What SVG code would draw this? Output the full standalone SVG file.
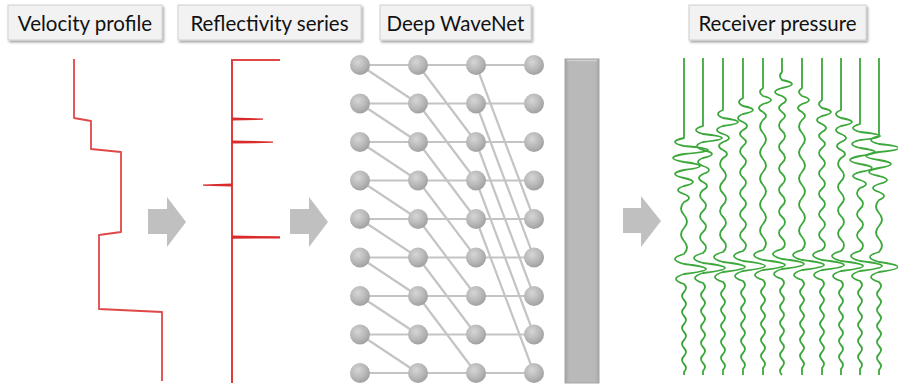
<svg xmlns="http://www.w3.org/2000/svg" width="898" height="385" viewBox="0 0 898 385">
<defs>
<radialGradient id="ball" cx="0.4" cy="0.35" r="0.7">
<stop offset="0" stop-color="#d6d6d6"/>
<stop offset="0.6" stop-color="#b6b6b6"/>
<stop offset="1" stop-color="#9c9c9c"/>
</radialGradient>
<linearGradient id="bar" x1="0" y1="0" x2="1" y2="0">
<stop offset="0" stop-color="#a2a2a2"/>
<stop offset="0.12" stop-color="#b9b9b9"/>
<stop offset="0.88" stop-color="#b9b9b9"/>
<stop offset="1" stop-color="#a8a8a8"/>
</linearGradient>
<filter id="sh" x="-10%" y="-10%" width="130%" height="140%">
<feDropShadow dx="1.5" dy="2" stdDeviation="1" flood-color="#000" flood-opacity="0.35"/>
</filter>
</defs>
<style>
.box{fill:#f2f2f2;stroke:#d0d0d0;stroke-width:1;filter:url(#sh)}
.lbl{font-family:Lato,"Open Sans","Liberation Sans",sans-serif;font-size:20.5px;fill:#111;text-anchor:middle}
.red{fill:none;stroke:#e04848;stroke-width:1.8;stroke-linejoin:round}
.spk{fill:#d92b2b}
.link{stroke:#c4c4c4;stroke-width:2.2;fill:none}
.node{fill:url(#ball)}
.arrow{fill:#c0c0c0}
.tr{fill:none;stroke:#3ca83c;stroke-width:1.8;stroke-linejoin:round}
</style>

<g id="label-velocity"><rect class="box" x="8" y="5" width="154" height="35"/><text class="lbl" x="85" y="30.5">Velocity profile</text></g>
<g id="label-reflectivity"><rect class="box" x="178" y="5" width="183" height="35"/><text class="lbl" x="269.5" y="30.5">Reflectivity series</text></g>
<g id="label-wavenet"><rect class="box" x="380" y="5" width="151" height="35"/><text class="lbl" x="455.5" y="30.5">Deep WaveNet</text></g>
<g id="label-receiver"><rect class="box" x="689" y="5" width="177" height="35"/><text class="lbl" x="777.5" y="30.5">Receiver pressure</text></g>

<g id="velocity-profile">
<polyline class="red" points="74,59 74,118 91,121 91,149 121,152 121,232 99,235 99,309 162,312 162,381"/>
</g>

<g id="reflectivity-series">
<line x1="232" y1="59" x2="232" y2="383" stroke="#e03a3a" stroke-width="2"/>
<line x1="232" y1="60" x2="280" y2="60" stroke="#e04848" stroke-width="1.8"/>
<polygon class="spk" points="232,117.6 263,118.4 263,119.8 232,120.6"/>
<polygon class="spk" points="232,140.6 273,141.4 273,142.8 232,143.6"/>
<polygon class="spk" points="232,183.6 203,184.4 203,185.8 232,186.6"/>
<polygon class="spk" points="232,235.6 280,236.2 280,238.4 232,238.8"/>
</g>

<g id="connectors">
<polygon class="arrow" points="148,209 167,209 167,197 186,222 167,247 167,234 148,234"/>
<polygon class="arrow" points="290,209 309,209 309,197 328,222 309,247 309,234 290,234"/>
<polygon class="arrow" points="623,208 641,208 641,196 661,221 641,247 641,233 623,233"/>
</g>

<g id="deep-wavenet">
<g id="wavenet-links">
<path class="link" d="M360,65H534M360,103.5H534M360,142H534M360,180.5H534M360,219H534M360,257.5H534M360,296H534M360,334.5H534M360,373H534"/>
<path class="link" d="M360,65L418,103.5M360,103.5L418,142M360,142L418,180.5M360,180.5L418,219M360,219L418,257.5M360,257.5L418,296M360,296L418,334.5M360,334.5L418,373"/>
<path class="link" d="M418,65L476,142M418,103.5L476,180.5M418,142L476,219M418,180.5L476,257.5M418,219L476,296M418,257.5L476,334.5M418,296L476,373"/>
<path class="link" d="M476,65L534,219M476,103.5L534,257.5M476,142L534,296M476,180.5L534,334.5M476,219L534,373"/>
</g>
<g id="wavenet-nodes">
<g id="col0"><circle class="node" cx="360" cy="65" r="10"/><circle class="node" cx="360" cy="103.5" r="10"/><circle class="node" cx="360" cy="142" r="10"/><circle class="node" cx="360" cy="180.5" r="10"/><circle class="node" cx="360" cy="219" r="10"/><circle class="node" cx="360" cy="257.5" r="10"/><circle class="node" cx="360" cy="296" r="10"/><circle class="node" cx="360" cy="334.5" r="10"/><circle class="node" cx="360" cy="373" r="10"/></g>
<g id="col1"><circle class="node" cx="418" cy="65" r="10"/><circle class="node" cx="418" cy="103.5" r="10"/><circle class="node" cx="418" cy="142" r="10"/><circle class="node" cx="418" cy="180.5" r="10"/><circle class="node" cx="418" cy="219" r="10"/><circle class="node" cx="418" cy="257.5" r="10"/><circle class="node" cx="418" cy="296" r="10"/><circle class="node" cx="418" cy="334.5" r="10"/><circle class="node" cx="418" cy="373" r="10"/></g>
<g id="col2"><circle class="node" cx="476" cy="65" r="10"/><circle class="node" cx="476" cy="103.5" r="10"/><circle class="node" cx="476" cy="142" r="10"/><circle class="node" cx="476" cy="180.5" r="10"/><circle class="node" cx="476" cy="219" r="10"/><circle class="node" cx="476" cy="257.5" r="10"/><circle class="node" cx="476" cy="296" r="10"/><circle class="node" cx="476" cy="334.5" r="10"/><circle class="node" cx="476" cy="373" r="10"/></g>
<g id="col3"><circle class="node" cx="534" cy="65" r="10"/><circle class="node" cx="534" cy="103.5" r="10"/><circle class="node" cx="534" cy="142" r="10"/><circle class="node" cx="534" cy="180.5" r="10"/><circle class="node" cx="534" cy="219" r="10"/><circle class="node" cx="534" cy="257.5" r="10"/><circle class="node" cx="534" cy="296" r="10"/><circle class="node" cx="534" cy="334.5" r="10"/><circle class="node" cx="534" cy="373" r="10"/></g>
</g>
</g>

<g id="output-bar">
<rect x="565" y="59" width="34" height="324" fill="url(#bar)" stroke="#a5a5a5" stroke-width="1"/>
<line x1="567" y1="60.5" x2="597" y2="60.5" stroke="#cfcfcf" stroke-width="1.5"/>
</g>

<g id="receiver-pressure">
<path class="tr" d="M684,58v80q-18,4 0,8q48,4 0,8q-22,4 0,8q32,4 0,8q-18,4 0,8q18,4 0,8q-12,4 0,8q10,4 0,8q-6,6.5 0,13t0,13t0,13t0,13q-18,5 0,10q44,5 0,10q-16,5 0,10q4,4 0,8t0,8t0,8t0,8t0,8t0,8t0,8t0,8t0,8t0,8t0,8v3"/>
<path class="tr" d="M703,58v68q-14,4 0,8q38,4 0,8q-12,4 0,8q18,4 0,8q-10,4 0,8q12,4 0,8q-8,4 0,8q8,4 0,8q-6,5.25 0,10.5t0,10.5t0,10.5t0,10.5t0,10.5t0,10.5q-18,5 0,10q44,5 0,10q-16,5 0,10q4,4 0,8t0,8t0,8t0,8t0,8t0,8t0,8t0,8t0,8t0,8t0,8v4"/>
<path class="tr" d="M723,58v52q-10,4 0,8q30,4 0,8q-12,4 0,8q12,4 0,8q-8,4 0,8q8,4 0,8q-6,5.875 0,11.75t0,11.75t0,11.75t0,11.75t0,11.75t0,11.75t0,11.75t0,11.75q-18,5 0,10q44,5 0,10q-16,5 0,10q4,4 0,8t0,8t0,8t0,8t0,8t0,8t0,8t0,8t0,8t0,8t0,8v5"/>
<path class="tr" d="M743,58v40q-8,4 0,8q20,4 0,8q-10,4 0,8q8,4 0,8q-6,4 0,8q6,4 0,8q-6,5.25 0,10.5t0,10.5t0,10.5t0,10.5t0,10.5t0,10.5t0,10.5t0,10.5t0,10.5t0,10.5q-18,5 0,10q44,5 0,10q-16,5 0,10q4,4 0,8t0,8t0,8t0,8t0,8t0,8t0,8t0,8t0,8t0,8t0,8v6"/>
<path class="tr" d="M763,58v30q-6,4 0,8q16,4 0,8q-8,4 0,8q6,4 0,8q-6,6.5 0,13t0,13t0,13t0,13t0,13t0,13t0,13t0,13t0,13t0,13q-18,5 0,10q44,5 0,10q-16,5 0,10q4,4 0,8t0,8t0,8t0,8t0,8t0,8t0,8t0,8t0,8t0,8t0,8v7"/>
<path class="tr" d="M782,58v14q-4,4 0,8q20,4 0,8q-14,4 0,8q8,4 0,8q-6,4 0,8q6,4 0,8q-6,5.375 0,10.75t0,10.75t0,10.75t0,10.75t0,10.75t0,10.75t0,10.75t0,10.75t0,10.75t0,10.75t0,10.75t0,10.75q-18,5 0,10q44,5 0,10q-16,5 0,10q4,4 0,8t0,8t0,8t0,8t0,8t0,8t0,8t0,8t0,8t0,8t0,8t0,8"/>
<path class="tr" d="M802,58v30q-6,4 0,8q14,4 0,8q-8,4 0,8q6,4 0,8q-6,6.5 0,13t0,13t0,13t0,13t0,13t0,13t0,13t0,13t0,13t0,13q-18,5 0,10q44,5 0,10q-16,5 0,10q4,4 0,8t0,8t0,8t0,8t0,8t0,8t0,8t0,8t0,8t0,8t0,8v7"/>
<path class="tr" d="M822,58v42q-6,4 0,8q18,4 0,8q-10,4 0,8q8,4 0,8q-6,4 0,8q6,4 0,8q-6,5.1 0,10.2t0,10.2t0,10.2t0,10.2t0,10.2t0,10.2t0,10.2t0,10.2t0,10.2t0,10.2q-18,5 0,10q44,5 0,10q-16,5 0,10q4,4 0,8t0,8t0,8t0,8t0,8t0,8t0,8t0,8t0,8t0,8t0,8v7"/>
<path class="tr" d="M841,58v52q-10,4 0,8q22,4 0,8q-10,4 0,8q10,4 0,8q-8,4 0,8q8,4 0,8q-6,5.8125 0,11.625t0,11.625t0,11.625t0,11.625t0,11.625t0,11.625t0,11.625t0,11.625q-18,5 0,10q44,5 0,10q-16,5 0,10q4,4 0,8t0,8t0,8t0,8t0,8t0,8t0,8t0,8t0,8t0,8t0,8v6"/>
<path class="tr" d="M860,58v66q-14,4 0,8q40,4 0,8q-16,4 0,8q30,4 0,8q-20,4 0,8q24,4 0,8q-14,4 0,8q12,4 0,8q-6,5.25 0,10.5t0,10.5t0,10.5t0,10.5t0,10.5t0,10.5q-18,5 0,10q44,5 0,10q-16,5 0,10q4,4 0,8t0,8t0,8t0,8t0,8t0,8t0,8t0,8t0,8t0,8t0,8v6"/>
<path class="tr" d="M879,58v78q-16,4 0,8q40,4 0,8q-26,4 0,8q24,4 0,8q-20,4 0,8q16,4 0,8q-12,4 0,8q10,4 0,8q-6,6.5 0,13t0,13t0,13t0,13q-18,5 0,10q38,5 0,10q-16,5 0,10q4,4 0,8t0,8t0,8t0,8t0,8t0,8t0,8t0,8t0,8t0,8t0,8v5"/>
</g>
</svg>
